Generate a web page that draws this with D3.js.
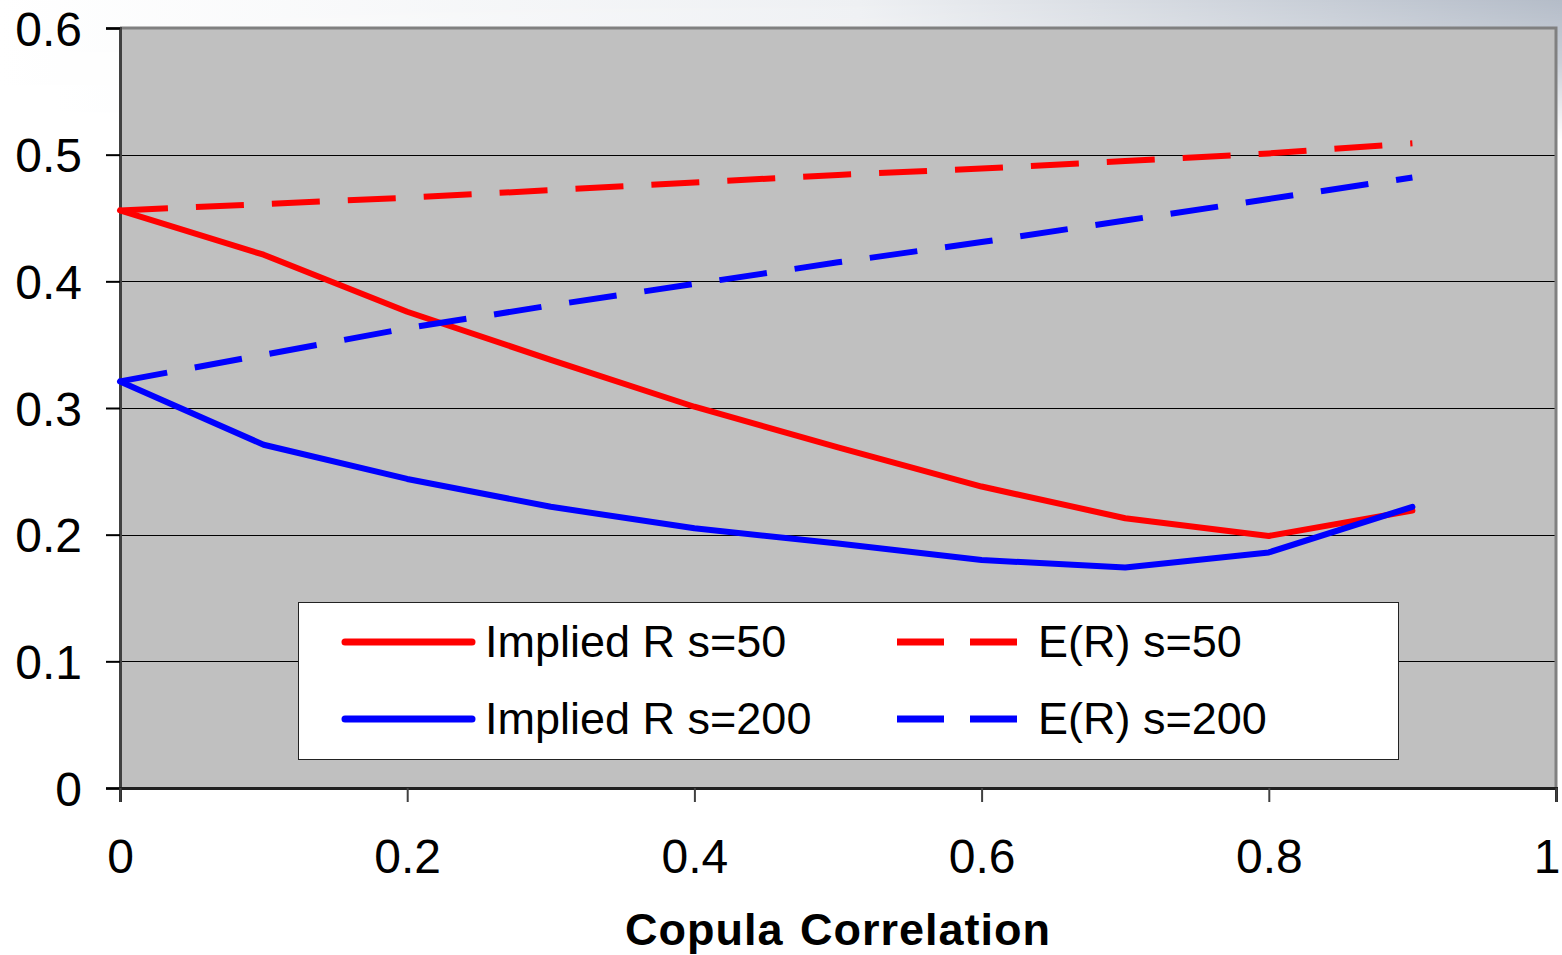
<!DOCTYPE html>
<html>
<head>
<meta charset="utf-8">
<script src="https://cdn.jsdelivr.net/npm/d3@7"></script>
<style>
  html, body { margin: 0; padding: 0; background: #fff; }
  svg { display: block; font-family: "Liberation Sans", Arial, sans-serif; }
</style>
</head>
<body>
<svg id="chart" width="1562" height="955"></svg>
<script>
// Copula correlation on the x axis
const correlation = [0, 0.1, 0.2, 0.3, 0.4, 0.5, 0.6, 0.7, 0.8, 0.9];

// Series values
const impliedR50  = [0.456, 0.421, 0.376, 0.338, 0.301, 0.269, 0.238, 0.213, 0.199, 0.219];
const impliedR200 = [0.321, 0.271, 0.244, 0.222, 0.205, 0.193, 0.180, 0.174, 0.186, 0.222];
const expectedR50  = [0.456, 0.461, 0.466, 0.472, 0.478, 0.484, 0.489, 0.495, 0.501, 0.509];
const expectedR200 = [0.321, 0.342, 0.363, 0.381, 0.398, 0.415, 0.431, 0.448, 0.465, 0.482];

// Tick labels
const xTicks = [0, 0.2, 0.4, 0.6, 0.8, 1];
const yTicks = [0, 0.1, 0.2, 0.3, 0.4, 0.5, 0.6];
const xTitle = "Copula Correlation";

const series = [
  { name: "Implied R s=50",  values: impliedR50,  color: "#ff0000", dashed: false },
  { name: "E(R) s=50",       values: expectedR50, color: "#ff0000", dashed: true },
  { name: "Implied R s=200", values: impliedR200, color: "#0000ff", dashed: false },
  { name: "E(R) s=200",      values: expectedR200, color: "#0000ff", dashed: true }
];

const svg = d3.select("#chart");
const W = 1562, H = 955;
const plot = { left: 120, right: 1556, top: 28, bottom: 788 };

// soft bluish haze along the top edge
const defs = svg.append("defs");
const hg = defs.append("linearGradient").attr("id", "hazeH").attr("x1", 0).attr("x2", 1).attr("y1", 0).attr("y2", 0);
hg.append("stop").attr("offset", 0).attr("stop-color", "#ffffff");
hg.append("stop").attr("offset", 0.55).attr("stop-color", "#eef0f3");
hg.append("stop").attr("offset", 1).attr("stop-color", "#b4bcc8");
const vg = defs.append("linearGradient").attr("id", "hazeV").attr("x1", 0).attr("x2", 0).attr("y1", 0).attr("y2", 1);
vg.append("stop").attr("offset", 0).attr("stop-color", "#fff").attr("stop-opacity", 1);
vg.append("stop").attr("offset", 0.45).attr("stop-color", "#fff").attr("stop-opacity", 0.7);
vg.append("stop").attr("offset", 1).attr("stop-color", "#fff").attr("stop-opacity", 0);
const mask = defs.append("mask").attr("id", "hazeMask");
mask.append("rect").attr("x", 0).attr("y", 0).attr("width", W).attr("height", 140).attr("fill", "url(#hazeV)");
svg.append("rect").attr("x", 0).attr("y", 0).attr("width", W).attr("height", 140)
  .attr("fill", "url(#hazeH)").attr("mask", "url(#hazeMask)");

const x = d3.scaleLinear().domain([0, 1]).range([plot.left, plot.right]);
const y = d3.scaleLinear().domain([0, 0.6]).range([plot.bottom, plot.top]);

// plot background
svg.append("rect")
  .attr("x", plot.left).attr("y", plot.top)
  .attr("width", plot.right - plot.left).attr("height", plot.bottom - plot.top)
  .attr("fill", "#c0c0c0");

// horizontal gridlines
svg.append("g")
  .selectAll("line")
  .data(yTicks.filter(v => v > 0 && v < 0.6))
  .join("line")
  .attr("x1", plot.left).attr("x2", plot.right)
  .attr("y1", d => Math.round(y(d)) + 0.5).attr("y2", d => Math.round(y(d)) + 0.5)
  .attr("stroke", "#000").attr("stroke-width", 1);

// plot frame: gray top and right edges
svg.append("path")
  .attr("d", `M${plot.left},${plot.top} H${plot.right} V${plot.bottom}`)
  .attr("fill", "none").attr("stroke", "#808080").attr("stroke-width", 3);

// y axis
const yAxis = d3.axisLeft(y).tickValues(yTicks).tickFormat(d3.format("")).tickSize(14).tickPadding(24);
const gy = svg.append("g").attr("transform", `translate(${plot.left},0)`).call(yAxis);
gy.select(".domain").attr("stroke", "#404040").attr("stroke-width", 3);
gy.selectAll(".tick line").attr("stroke", "#000").attr("stroke-width", 2);
gy.selectAll(".tick text").attr("font-size", 48).attr("fill", "#000")
  .attr("font-family", "'Liberation Sans', Arial, sans-serif").attr("dy", "0.36em");

// x axis
const xAxis = d3.axisBottom(x).tickValues(xTicks).tickFormat(d3.format("")).tickSize(14).tickPadding(36);
const gx = svg.append("g").attr("transform", `translate(0,${plot.bottom})`).call(xAxis);
gx.select(".domain").attr("stroke", "#202020").attr("stroke-width", 3);
gx.selectAll(".tick line").attr("stroke", "#404040").attr("stroke-width", 2);
gx.selectAll(".tick text").attr("font-size", 48).attr("fill", "#000")
  .attr("font-family", "'Liberation Sans', Arial, sans-serif").attr("dy", "0.72em")
  .filter(d => d === 1).attr("text-anchor", "end").attr("dx", 4);

// x axis title
svg.append("text")
  .attr("x", 838).attr("y", 945)
  .attr("text-anchor", "middle")
  .attr("font-size", 45).attr("font-weight", "bold").attr("letter-spacing", 1)
  .attr("word-spacing", 3)
  .text(xTitle);

// series lines
const line = d3.line().x((d, i) => x(correlation[i])).y(d => y(d));
svg.append("g")
  .selectAll("path")
  .data(series)
  .join("path")
  .attr("d", d => line(d.values))
  .attr("fill", "none")
  .attr("stroke", d => d.color)
  .attr("stroke-width", 6)
  .attr("stroke-linejoin", "round")
  .attr("stroke-linecap", d => d.dashed ? "butt" : "round")
  .attr("stroke-dasharray", d => d.dashed ? "48 28" : null);

// legend
const legend = svg.append("g");
legend.append("rect")
  .attr("x", 298.5).attr("y", 602.5).attr("width", 1100).attr("height", 157)
  .attr("fill", "#fff").attr("stroke", "#222").attr("stroke-width", 1);

const legendPos = [
  { sx: 345, tx: 485, y: 642 },
  { sx: 897, tx: 1038, y: 642 },
  { sx: 345, tx: 485, y: 719 },
  { sx: 897, tx: 1038, y: 719 }
];
series.forEach((s, i) => {
  const p = legendPos[i];
  const sw = s.dashed ? 125 : 127;
  legend.append("line")
    .attr("x1", p.sx).attr("x2", p.sx + sw)
    .attr("y1", p.y).attr("y2", p.y)
    .attr("stroke", s.color).attr("stroke-width", 7)
    .attr("stroke-linecap", s.dashed ? "butt" : "round")
    .attr("stroke-dasharray", s.dashed ? "47 26" : null);
  legend.append("text")
    .attr("x", p.tx).attr("y", p.y + 15)
    .attr("font-size", 45).attr("fill", "#000")
    .text(s.name);
});
</script>
</body>
</html>
